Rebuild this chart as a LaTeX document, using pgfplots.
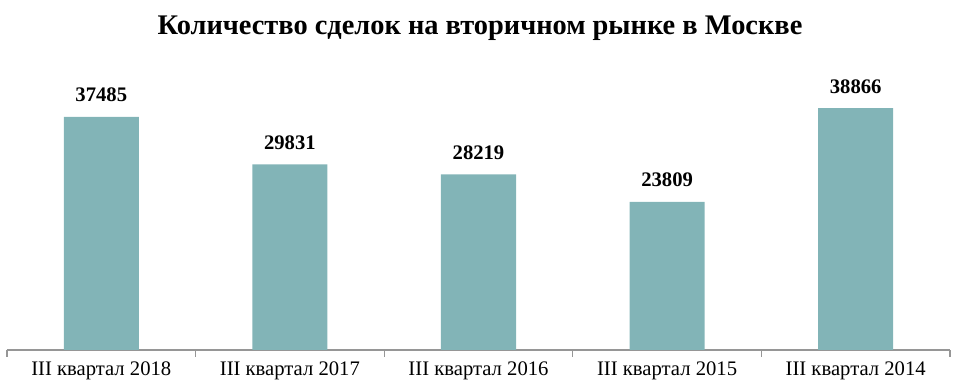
\documentclass[border=0pt]{standalone}
\usepackage{pgfplots}
\pgfplotsset{compat=1.18}
\usepackage{fontspec}
\setmainfont{Liberation Serif}
\definecolor{barc}{RGB}{130,180,183}
\definecolor{axc}{RGB}{150,150,150}
\begin{document}
\begin{tikzpicture}[x=0.75pt,y=0.75pt]
\useasboundingbox (-7,-35) rectangle (954,350);
\begin{axis}[
  at={(0,0)}, anchor=south west,
  scale only axis,
  width=707.25pt, height=210pt,
  xmin=-0.5, xmax=4.5, ymin=0, ymax=45000,
  hide y axis,
  axis x line*=bottom,
  x axis line style={axc, line width=0.8pt},
  xtick={0,1,2,3,4},
  xticklabels={III квартал 2018, III квартал 2017, III квартал 2016, III квартал 2015, III квартал 2014},
  major tick length=0pt,
  minor xtick={-0.5,0.5,1.5,2.5,3.5,4.5},
  minor tick length=5pt,
  minor tick style={axc, line width=0.8pt},
  xtick pos=bottom,
  tick align=outside,
  xticklabel style={font=\fontsize{15.5}{18}\selectfont, yshift=-5pt},
  ybar, bar width=56.25pt,
  nodes near coords,
  every node near coord/.append style={font=\bfseries\fontsize{15.5}{18}\selectfont, black, yshift=7.5pt},
  /pgf/number format/assume math mode=true,
  /pgf/number format/.cd, fixed, 1000 sep={},
]
\addplot[fill=barc, draw=none] coordinates {(0,37485) (1,29831) (2,28219) (3,23809) (4,38866)};
\end{axis}
\node[font=\bfseries\fontsize{21.3}{25}\selectfont] at (473,322) {Количество сделок на вторичном рынке в Москве};
\end{tikzpicture}
\end{document}
